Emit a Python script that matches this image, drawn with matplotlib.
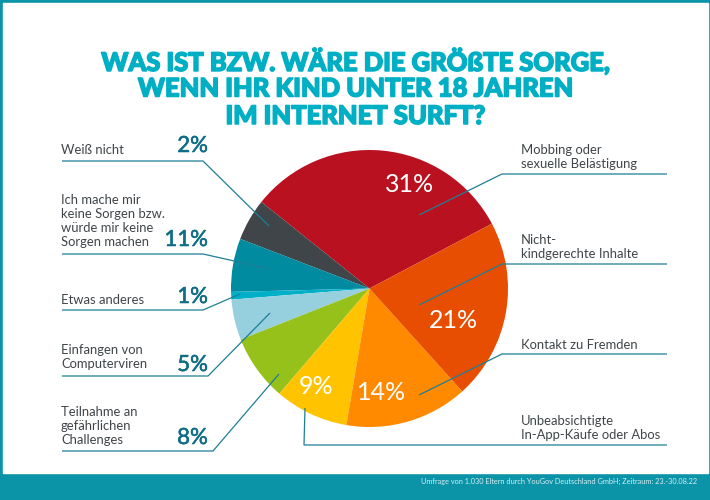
import matplotlib
matplotlib.use("Agg")

import matplotlib.pyplot as plt
import matplotlib.patheffects as pe
from matplotlib.patches import Rectangle

# wedge sizes as drawn in the picture (degrees), they don't follow the printed percentages
categories = ["Mobbing", "Weiss nicht", "Keine Sorgen", "Etwas anderes", "Computerviren",
              "Challenges", "In-App", "Fremde", "Inhalte"]
wedge_sizes = [113.5, 17.7, 22.4, 3.2, 17.0, 27.8, 31.0, 51.7, 75.9]
wedge_colors = ["#B9111F", "#3F4549", "#008BA0", "#00B0C8", "#96D0DE",
                "#95C11A", "#FFC300", "#FF8A00", "#E84E02"]

title_lines = ["WAS IST BZW. WÄRE DIE GRÖßTE SORGE,",
               "WENN IHR KIND UNTER 18 JAHREN",
               "IM INTERNET SURFT?"]
source = "Umfrage von 1.030 Eltern durch YouGov Deutschland GmbH; Zeitraum: 23.-30.08.22"

left_labels = ["Weiß nicht", "Ich mache mir\nkeine Sorgen bzw.\nwürde mir keine\nSorgen machen",
               "Etwas anderes", "Einfangen von\nComputerviren", "Teilnahme an\ngefährlichen\nChallenges"]
left_pcts = ["2%", "11%", "1%", "5%", "8%"]
right_labels = ["Mobbing oder\nsexuelle Belästigung", "Nicht-\nkindgerechte Inhalte",
                "Kontakt zu Fremden", "Unbeabsichtigte\nIn-App-Käufe oder Abos"]
inner_pcts = ["31%", "21%", "14%", "9%"]

# leader lines, pixel coords of the 710x500 layout
left_leaders = [[(62, 161), (203, 161), (269, 226)],
                [(62, 254), (203, 254), (270, 269)],
                [(62, 310), (203, 310), (240, 294)],
                [(62, 376), (208, 376), (270, 313)],
                [(62, 451), (213, 451), (279, 374)]]
right_leaders = [[(667, 174), (502, 174), (419, 215)],
                 [(667, 264), (502, 264), (419, 305)],
                 [(667, 354), (502, 354), (419, 395)],
                 [(667, 445), (304, 445), (305, 408)]]
teal = "#1D7F96"
text_col = "#3F4549"
pct_col = "#0F6E85"

plt.rcParams["font.family"] = ["Lato", "DejaVu Sans"]

fig = plt.figure(figsize=(7.1, 5), dpi=100)
ax = fig.add_axes([0, 0, 1, 1])
ax.set_xlim(0, 710)
ax.set_ylim(500, 0)
ax.axis("off")

# frame and footer
ax.add_patch(Rectangle((0, 0), 710, 500, color="#0B93A8", zorder=0))
ax.add_patch(Rectangle((3, 3), 705, 470, color="white", zorder=0.5))

# pie gets its own axes so it stays round
r = 138.5
cx, cy = 369.5, 288.5
pie_ax = fig.add_axes([(cx - r) / 710, (500 - cy - r) / 500, 2 * r / 710, 2 * r / 500])
pie_ax.pie(wedge_sizes, colors=wedge_colors, startangle=27.9, radius=1,
           wedgeprops={"linewidth": 0})
pie_ax.set_xlim(-1, 1)
pie_ax.set_ylim(-1, 1)
pie_ax.patch.set_alpha(0)

# overlay for leaders and labels, above the pie
top = fig.add_axes([0, 0, 1, 1])
top.set_xlim(0, 710)
top.set_ylim(500, 0)
top.axis("off")
top.patch.set_alpha(0)

for line in left_leaders + right_leaders:
    top.plot([p[0] for p in line], [p[1] for p in line], color=teal, lw=0.9,
             solid_joinstyle="miter", solid_capstyle="butt")

# the original headline is heavier than Lato, so thicken it with a stroke
for line, y in zip(title_lines, [60.5, 88.5, 116]):
    top.text(355, y, line, color="#00AFC4", fontsize=18.4, fontweight="black",
             ha="center", va="center",
             path_effects=[pe.withStroke(linewidth=1.1, foreground="#00AFC4")])

for label, y_bottom in zip(left_labels, [155.5, 248.5, 305.5, 370.5, 445.5]):
    top.text(61, y_bottom, label, color=text_col, fontsize=9.4, ha="left", va="bottom",
             linespacing=1.2)
for pct, y in zip(left_pcts, [146, 240, 297, 365, 438]):
    top.text(208, y, pct, color=pct_col, fontsize=16, ha="right", va="center",
             path_effects=[pe.withStroke(linewidth=0.4, foreground=pct_col)])

for label, y_bottom in zip(right_labels, [170, 260, 351, 441]):
    top.text(521, y_bottom, label, color=text_col, fontsize=9.4, ha="left", va="bottom",
             linespacing=1.2)

for pct, x, y in zip(inner_pcts, [410, 453, 382, 316], [184, 320, 392, 386]):
    top.text(x, y, pct, color="white", fontsize=18, ha="center", va="center")

top.text(697, 481.5, source, color="#D5EEF2", fontsize=5.3, ha="right", va="center")

plt.savefig("out.png", dpi=100)
plt.close()
